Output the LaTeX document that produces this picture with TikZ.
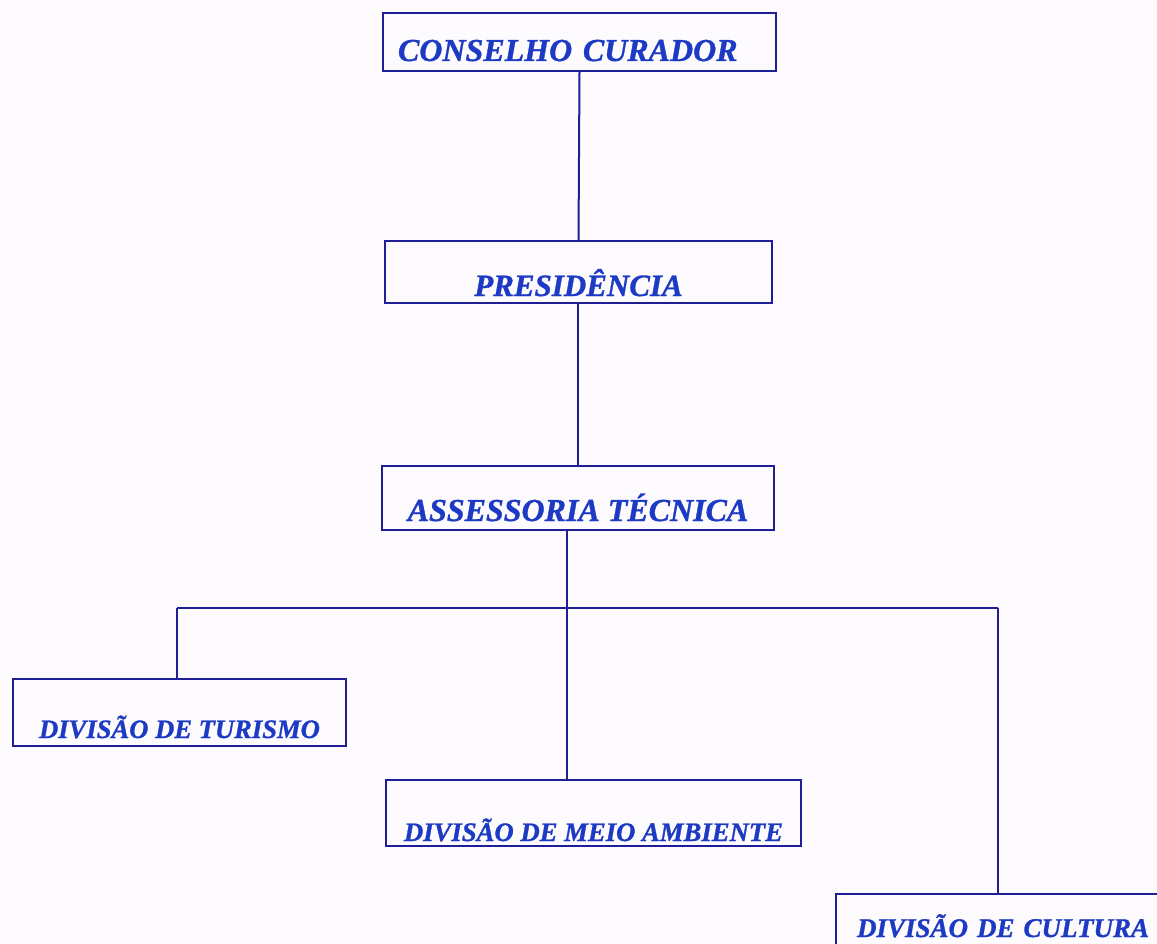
\documentclass[tikz,border=0pt]{standalone}
\usepackage{fontspec}
\setmainfont{Liberation Serif}[BoldItalicFeatures={FakeBold=1}]
\usepackage{xcolor}
\usetikzlibrary{positioning}

\definecolor{pencol}{RGB}{32,30,150}
\definecolor{inkcol}{RGB}{28,58,196}
\definecolor{papercol}{RGB}{253,251,253}

\begin{document}
\begin{tikzpicture}[
  x=1pt, y=-1pt,
  every node/.style={font=\bfseries\itshape},
  unit/.style={rectangle, draw=pencol, line width=2pt, inner sep=0pt, text=inkcol, text depth=0pt, anchor=north west},
  link/.style={draw=pencol, line width=2pt}
]

% Page
\fill[papercol] (0,0) rectangle (1157,944);
\useasboundingbox (0,0) rectangle (1157,944);

% Units
\node[unit, minimum width=393pt, minimum height=58pt, text height=38pt, text width=363pt, inner xsep=15pt, align=left, font=\fontsize{32}{36}\bfseries\itshape] (conselho) at (382,12) {CONSELHO CURADOR};
\node[unit, minimum width=387pt, minimum height=62pt, text height=48pt, font=\fontsize{31}{36}\bfseries\itshape] (presidencia) at (384,240) {PRESIDÊNCIA};
\node[unit, minimum width=392pt, minimum height=64pt, text height=46pt, font=\fontsize{32}{36}\bfseries\itshape] (assessoria) at (381,465) {ASSESSORIA TÉCNICA};

\node[unit, minimum width=333pt, minimum height=67pt, text height=51pt, font=\fontsize{26.6}{30}\bfseries\itshape] (turismo) at (12,678) {DIVISÃO DE TURISMO};
\node[unit, minimum width=415pt, minimum height=66pt, text height=56pt, font=\fontsize{26.7}{30}\bfseries\itshape] (meio) at (385,779) {DIVISÃO DE MEIO AMBIENTE};
\node[unit, minimum width=340pt, minimum height=70pt, text height=16pt, text width=298pt, inner xsep=21pt, align=left, font=\fontsize{27}{30}\bfseries\itshape] (cultura) at (835,893) {DIVISÃO DE CULTURA};

% Bus
\coordinate (busL) at (177,608);
\coordinate (busM) at (567,608);
\coordinate (busR) at (998,608);

% Links
\draw[link] (conselho.south) -- (presidencia.north);
\draw[link] (presidencia.south) -- (assessoria.south |- presidencia.south) -- (assessoria.north);
\draw[link] (assessoria.south -| busM) -- (busM);
\draw[link] (busL) -- (busR);
\draw[link] (busL) -- (busL |- turismo.north);
\draw[link] (busM) -- (busM |- meio.north);
\draw[link] (busR) -- (busR |- cultura.north);

\end{tikzpicture}
\end{document}
